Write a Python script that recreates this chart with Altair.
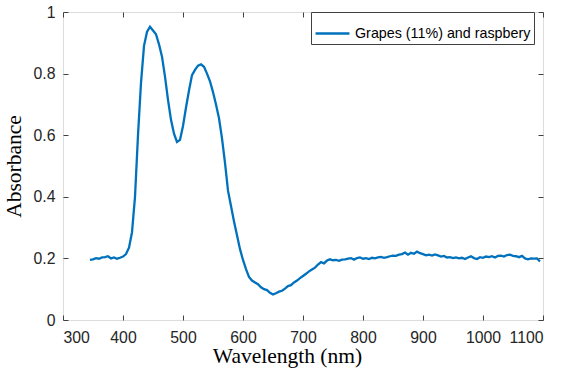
import altair as alt
import pandas as pd

wavelength = list(range(345, 1100, 5))
absorbance = [
    0.195, 0.197, 0.201, 0.199, 0.203, 0.204, 0.207, 0.200, 0.203, 0.199,
    0.202, 0.206, 0.214, 0.235, 0.285, 0.400, 0.600, 0.770, 0.890, 0.935,
    0.952, 0.940, 0.928, 0.895, 0.855, 0.790, 0.715, 0.650, 0.605, 0.578,
    0.585, 0.630, 0.690, 0.745, 0.795, 0.812, 0.826, 0.830, 0.822, 0.800,
    0.775, 0.740, 0.700, 0.655, 0.590, 0.510, 0.420, 0.370, 0.320, 0.275,
    0.230, 0.195, 0.165, 0.140, 0.128, 0.122, 0.116, 0.106, 0.100, 0.097,
    0.088, 0.083, 0.087, 0.092, 0.095, 0.102, 0.110, 0.113, 0.122, 0.128,
    0.136, 0.143, 0.150, 0.158, 0.164, 0.170, 0.180, 0.188, 0.184, 0.193,
    0.197, 0.194, 0.195, 0.192, 0.196, 0.197, 0.199, 0.201, 0.196, 0.201,
    0.203, 0.199, 0.201, 0.198, 0.202, 0.200, 0.203, 0.205, 0.202, 0.204,
    0.207, 0.209, 0.208, 0.212, 0.214, 0.219, 0.212, 0.218, 0.215, 0.222,
    0.217, 0.214, 0.210, 0.212, 0.209, 0.213, 0.210, 0.206, 0.208, 0.203,
    0.204, 0.201, 0.203, 0.200, 0.202, 0.198, 0.203, 0.207, 0.201, 0.198,
    0.204, 0.202, 0.206, 0.204, 0.207, 0.203, 0.208, 0.209, 0.206, 0.211,
    0.212, 0.208, 0.207, 0.204, 0.208, 0.200, 0.197, 0.200, 0.199, 0.200,
    0.190,
]
series_name = "Grapes (11%) and raspbery"
x_ticks = [300, 400, 500, 600, 700, 800, 900, 1000, 1100]
y_ticks = [0, 0.2, 0.4, 0.6, 0.8, 1]

n = min(len(wavelength), len(absorbance))
df = pd.DataFrame({
    "wavelength": wavelength[:n],
    "absorbance": absorbance[:n],
    "series": [series_name] * n,
})

axis_color = "#404040"
label_font = "Liberation Sans"
title_font = "Liberation Serif"

x_bottom = alt.Axis(values=x_ticks, format="d", domain=False, grid=False, tickSize=5, offset=-5,
                    tickColor=axis_color, labelColor="#262626", labelFont=label_font,
                    labelFontSize=15.8, labelPadding=10, title="Wavelength (nm)",
                    titleFont=title_font, titleFontSize=21.5, titleFontWeight="normal",
                    titleColor="black", titlePadding=1, titleX=224)
y_left = alt.Axis(values=y_ticks, format="~g", domain=False, grid=False, tickSize=5, offset=-5,
                  tickColor=axis_color, labelColor="#262626", labelFont=label_font,
                  labelFontSize=15.8, labelPadding=8, title="Absorbance",
                  titleFont=title_font, titleFontSize=21.5, titleFontWeight="normal",
                  titleColor="black", titlePadding=8)

x_scale = alt.Scale(domain=[300, 1100], nice=False, zero=False)
y_scale = alt.Scale(domain=[0, 1], nice=False)

line = alt.Chart(df).mark_line(strokeWidth=2.3, clip=True).encode(
    x=alt.X("wavelength:Q", scale=x_scale, axis=x_bottom),
    y=alt.Y("absorbance:Q", scale=y_scale, axis=y_left),
    color=alt.Color("series:N", scale=alt.Scale(range=["#0072BD"]),
                    legend=alt.Legend(title=None, orient="none", legendX=248, legendY=0,
                                      strokeColor=axis_color, fillColor="white",
                                      padding=3, symbolType="stroke", symbolSize=1150,
                                      symbolStrokeWidth=2.5, labelFont=label_font,
                                      labelFontSize=14.3, labelColor="black",
                                      labelLimit=400, symbolOffset=0)),
)

x_top = alt.Axis(values=x_ticks, domain=False, grid=False, tickSize=5, offset=-5,
                 tickColor=axis_color, labels=False, title=None, orient="top")
y_right = alt.Axis(values=y_ticks, domain=False, grid=False, tickSize=5, offset=-5,
                   tickColor=axis_color, labels=False, title=None, orient="right")

frame = alt.Chart(df).mark_line(opacity=0).encode(
    x=alt.X("wavelength:Q", scale=x_scale, axis=x_top),
    y=alt.Y("absorbance:Q", scale=y_scale, axis=y_right),
)

chart = alt.layer(line, frame).resolve_axis(x="independent", y="independent").properties(
    width=480, height=308,
    autosize=alt.AutoSizeParams(type="none"),
    padding={"left": 63, "top": 12, "right": 22, "bottom": 53},
).configure_view(stroke=axis_color, strokeWidth=1.2).configure(background="white")

chart.save("out.html", embed_options={"renderer": "svg", "actions": False})
